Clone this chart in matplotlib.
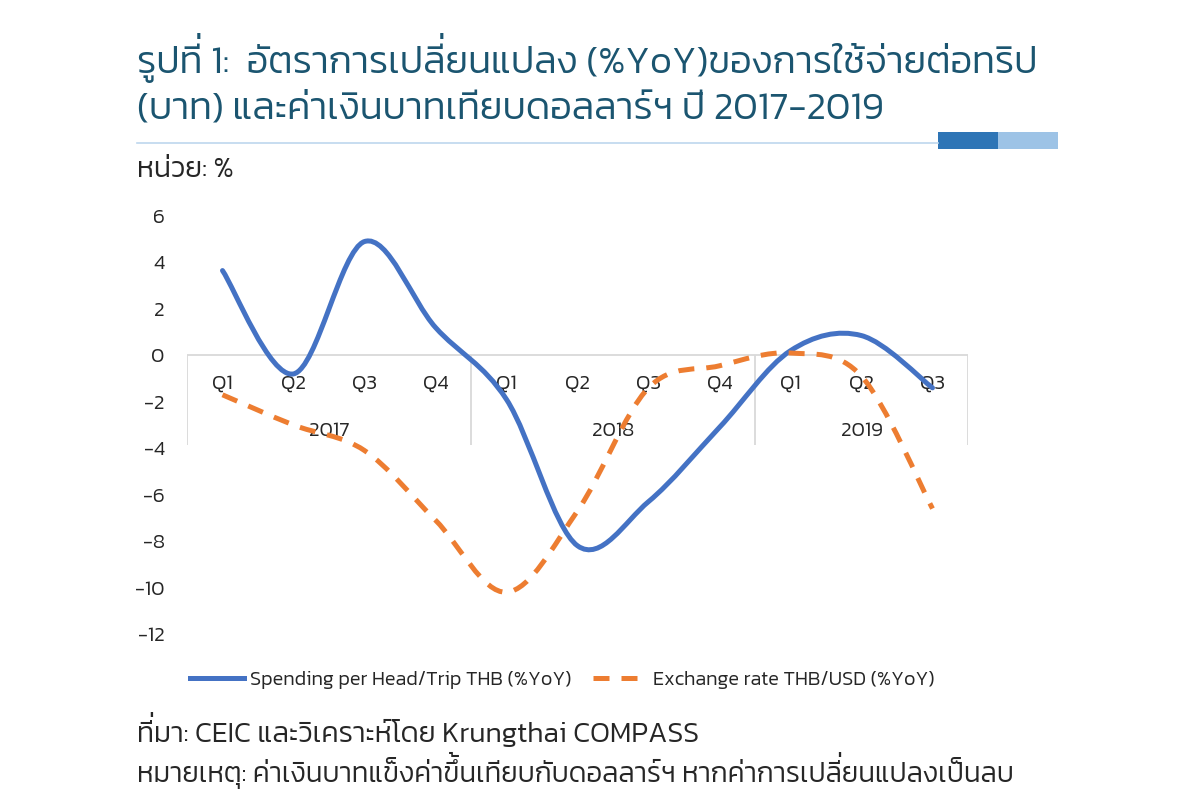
import glob
import matplotlib
matplotlib.use("Agg")
import matplotlib.pyplot as plt
from matplotlib import font_manager
from matplotlib.path import Path
from matplotlib.patches import PathPatch, Rectangle
from matplotlib.lines import Line2D
import numpy as np

# fonts with thai glyphs (kanit light, loopless like the original)
def find_font(name):
    hits = glob.glob("/usr/share/fonts/**/" + name, recursive=True)
    return hits[0] if hits else None

light_path = find_font("Kanit-Light.ttf") or find_font("Kanit-Regular.ttf")

def fp(size):
    return font_manager.FontProperties(fname=light_path, size=size)

plt.rcParams['axes.unicode_minus'] = False

# data
quarters = ["Q1", "Q2", "Q3", "Q4", "Q1", "Q2", "Q3", "Q4", "Q1", "Q2", "Q3"]
years = ["2017", "2018", "2019"]
year_len = [4, 4, 3]
spending = [3.65, -0.8, 4.9, 1.2, -1.9, -8.2, -6.3, -3.1, 0.2, 0.85, -1.4]
exchange = [-1.7, -3.0, -4.1, -7.1, -10.2, -6.7, -1.4, -0.45, 0.1, -0.9, -6.6]
yticks = [6, 4, 2, 0, -2, -4, -6, -8, -10, -12]

title1 = "รูปที่ 1:  อัตราการเปลี่ยนแปลง (%YoY)ของการใช้จ่ายต่อทริป"
title2 = "(บาท) และค่าเงินบาทเทียบดอลลาร์ฯ ปี 2017-2019"
unit = "หน่วย: %"
source = "ที่มา: CEIC และวิเคราะห์โดย Krungthai COMPASS"
note = "หมายเหตุ: ค่าเงินบาทแข็งค่าขึ้นเทียบกับดอลลาร์ฯ หากค่าการเปลี่ยนแปลงเป็นลบ"
labels = ["Spending per Head/Trip THB (%YoY)", "Exchange rate THB/USD (%YoY)"]

BLUE = "#4472C4"
ORANGE = "#ED7D31"
TEAL = "#1B5570"
GRID = "#D9D9D9"
TXT = "#262626"

W, H = 1200, 811


def smooth_path(y):
    # excel-like smoothed line: catmull-rom as cubic bezier
    x = np.arange(len(y), dtype=float)
    p = np.column_stack([x, np.asarray(y, dtype=float)])
    pts = np.vstack([p[0], p, p[-1]])
    verts = [p[0]]
    codes = [Path.MOVETO]
    for i in range(1, len(pts) - 2):
        c1 = pts[i] + (pts[i + 1] - pts[i - 1]) / 6
        c2 = pts[i + 1] - (pts[i + 2] - pts[i]) / 6
        verts += [c1, c2, pts[i + 1]]
        codes += [Path.CURVE4] * 3
    return Path(verts, codes)


fig = plt.figure(figsize=(12, 8.11), dpi=100)
renderer = fig.canvas.get_renderer()

TONES = "\u0E48\u0E49\u0E4A\u0E4B\u0E4C"
UPPER = "\u0E31\u0E34\u0E35\u0E36\u0E37\u0E47"


def thai_text(x, y, s, size, color):
    # matplotlib has no thai shaping: tone marks over an upper vowel are drawn
    # separately, lifted above the vowel
    prop = fp(size)
    clean = ""
    stacked = []
    for ch in s:
        if ch in TONES and clean and clean[-1] in UPPER:
            stacked.append((clean, ch))
        else:
            clean += ch
    fig.text(x / W, 1 - y / H, clean, fontproperties=prop, color=color, va="baseline")
    lift = size * 0.26 * 100 / 72
    for prefix, ch in stacked:
        w, h, d = renderer.get_text_width_height_descent(prefix, prop, ismath=False)
        fig.text((x + w) / W, 1 - (y - lift) / H, ch, fontproperties=prop, color=color,
                 ha="right", va="baseline")


ax = fig.add_axes([187 / W, 1 - 634 / H, 781 / W, 418 / H])

n = len(quarters)
ax.set_xlim(-0.5, n - 0.5)
ax.set_ylim(-12, 6)

dash = (0, (3.2, 2.4))
ax.add_patch(PathPatch(smooth_path(spending), facecolor="none", edgecolor=BLUE,
                       lw=3.6, capstyle="round", zorder=3))
ax.add_patch(PathPatch(smooth_path(exchange), facecolor="none", edgecolor=ORANGE,
                       lw=3.6, linestyle=dash, capstyle="butt", zorder=3))

# category axis at zero
ax.axhline(0, color=GRID, lw=1.3, zorder=1)
bounds = np.concatenate([[0], np.cumsum(year_len)]) - 0.5
ax.vlines(bounds, -3.84, 0, color=GRID, lw=1.3, zorder=1)
for i, q in enumerate(quarters):
    ax.text(i, -1.2, q, ha="center", va="center", fontproperties=fp(15), color=TXT, zorder=2)
for k, yr in enumerate(years):
    ax.text((bounds[k] + bounds[k + 1]) / 2, -3.25, yr, ha="center", va="center",
            fontproperties=fp(15), color=TXT, zorder=2)

ax.set_xticks([])
ax.set_yticks(yticks)
ax.set_yticklabels([str(v) for v in yticks], fontproperties=fp(15), color=TXT)
ax.tick_params(axis="y", length=0, pad=16)
for s in ax.spines.values():
    s.set_visible(False)

handles = [Line2D([], [], color=BLUE, lw=3.6),
           Line2D([], [], color=ORANGE, lw=3.6, linestyle=dash)]
fig.legend(handles, labels, loc="center", bbox_to_anchor=(562 / W, 1 - 680 / H),
           ncol=2, frameon=False, prop=fp(14.4), handlelength=2.7, columnspacing=1.1,
           handletextpad=0.3, labelcolor=TXT)

# header
thai_text(137, 73, title1, 27.5, TEAL)
thai_text(137, 118, title2, 27.5, TEAL)
fig.add_artist(Line2D([137 / W, 938 / W], [1 - 143 / H] * 2, color="#BDD7EE", lw=1.2))
fig.add_artist(Rectangle((938 / W, 1 - 149 / H), 60 / W, 17 / H, color="#2E75B6", lw=0))
fig.add_artist(Rectangle((998 / W, 1 - 149 / H), 60 / W, 17 / H, color="#9DC3E6", lw=0))
thai_text(137, 177, unit, 20.5, TXT)

# footer
thai_text(137, 742, source, 20.5, TXT)
thai_text(137, 782, note, 20, TXT)

fig.savefig("out.png")
